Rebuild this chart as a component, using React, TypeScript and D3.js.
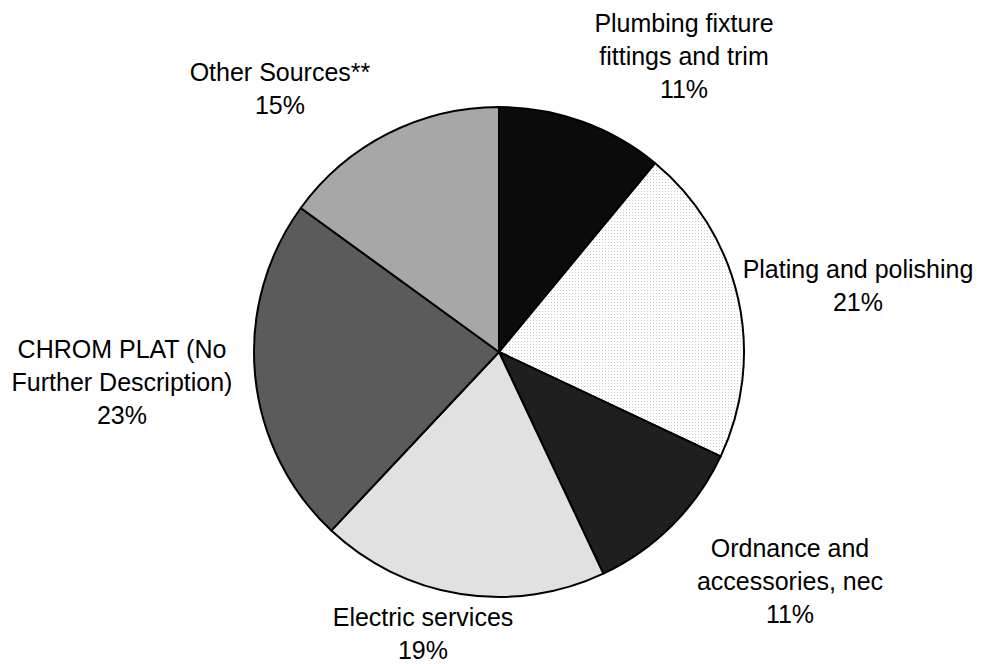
import React from "react";
import * as d3 from "d3";

const categories = [
  "Plumbing fixture fittings and trim",
  "Plating and polishing",
  "Ordnance and accessories, nec",
  "Electric services",
  "CHROM PLAT (No Further Description)",
  "Other Sources**",
];
const values = [11, 21, 11, 19, 23, 15];
const labelLines = [
  ["Plumbing fixture", "fittings and trim", "11%"],
  ["Plating and polishing", "21%"],
  ["Ordnance and", "accessories, nec", "11%"],
  ["Electric services", "19%"],
  ["CHROM PLAT (No", "Further Description)", "23%"],
  ["Other Sources**", "15%"],
];
const fills = ["#0b0b0b", "url(#dotWhite)", "#1f1f1f", "#e1e1e1", "#5b5b5b", "#a7a7a7"];
const labelPos: [number, number][] = [
  [684, 32],
  [858, 278],
  [790, 557],
  [423, 626],
  [122, 358],
  [280, 81],
];

export default function App() {
  const W = 995, H = 664;
  const cx = 499, cy = 352, r = 245;
  const pie = d3.pie<number>().sort(null).value((d) => d);
  const arcs = pie(values);
  const arc = d3.arc<d3.PieArcDatum<number>>().innerRadius(0).outerRadius(r);
  const lh = 33;
  return (
    <svg width={W} height={H} style={{ position: "absolute", left: 0, top: 0, background: "#fff" }}>
      <defs>
        <pattern id="dotWhite" width="3" height="3" patternUnits="userSpaceOnUse">
          <rect width="3" height="3" fill="#ffffff" />
          <rect x="1" y="1" width="1" height="1" fill="#c8c8c8" />
        </pattern>
      </defs>
      <g transform={`translate(${cx},${cy})`}>
        {arcs.map((a, i) => (
          <path key={categories[i]} d={arc(a) || ""} fill={fills[i]} stroke="#000" strokeWidth={2} strokeLinejoin="round" />
        ))}
      </g>
      <g fontFamily="'Liberation Sans', Arial, sans-serif" fontSize={25} fill="#000" textAnchor="middle">
        {labelLines.map((lines, i) => (
          <text key={categories[i]} x={labelPos[i][0]} y={labelPos[i][1]}>
            {lines.map((l, j) => (
              <tspan key={j} x={labelPos[i][0]} y={labelPos[i][1] + j * lh}>
                {l}
              </tspan>
            ))}
          </text>
        ))}
      </g>
    </svg>
  );
}
